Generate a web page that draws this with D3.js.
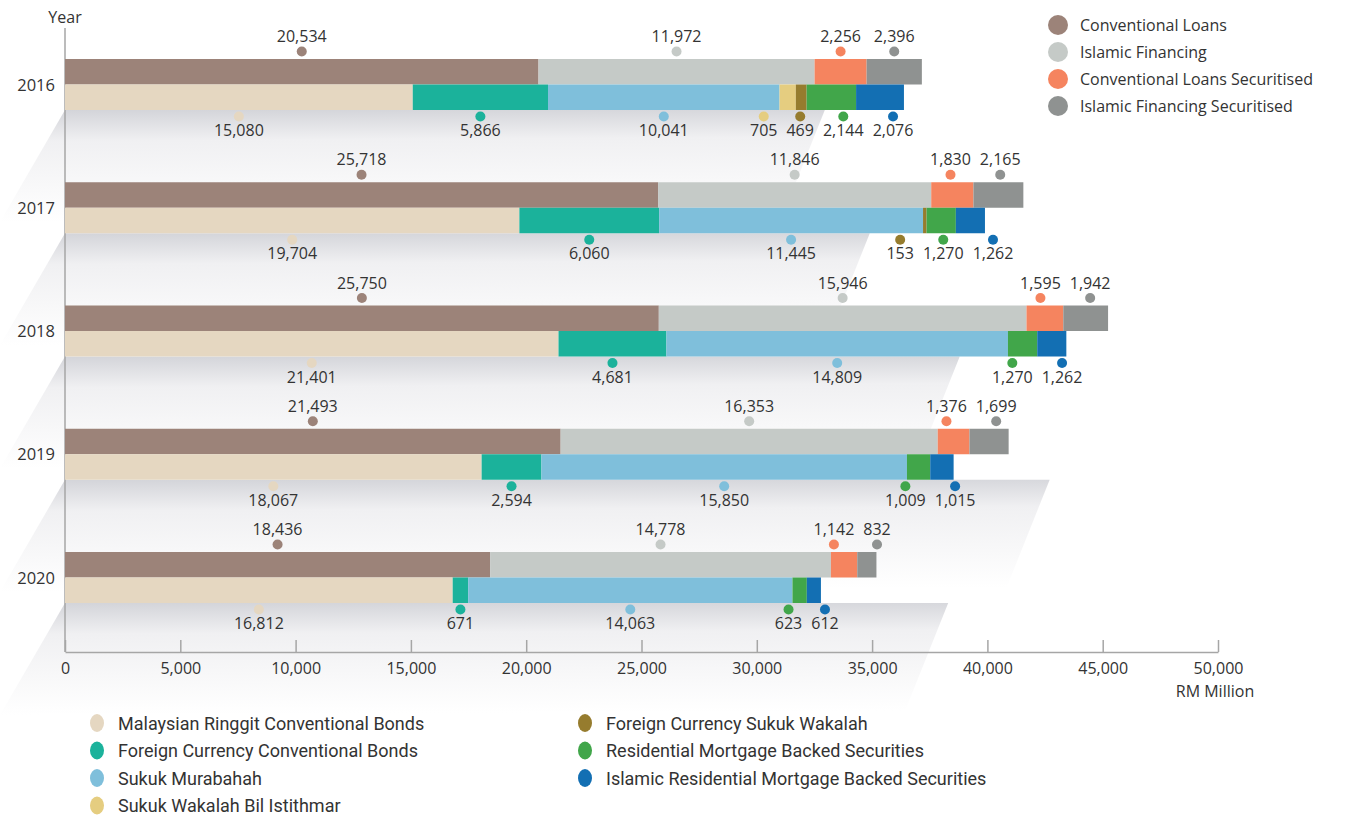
<!DOCTYPE html>
<html lang="en">
<head>
  <meta charset="UTF-8">
  <title>Outstanding securitised loans and bonds</title>
  <style>
    body {
      margin: 0;
      background-color: #fff;
      font-family: "Open Sans", Arial, sans-serif;
    }

    .value-label {
      font-size: 16px;
      fill: #333;
    }

    .year-label {
      font-size: 16.5px;
      fill: #333;
    }

    .axis text {
      font-family: "Open Sans", Arial, sans-serif;
      font-size: 16px;
      fill: #333;
    }

    .axis path,
    .axis line {
      stroke: #a6a6a6;
      stroke-width: 1.5;
    }
  </style>
</head>
<body>
  <svg id="chart"></svg>
  <script src="https://d3js.org/d3.v7.min.js"></script>
  <script>
    // data (RM million)
    const years = ['2016', '2017', '2018', '2019', '2020'];

    const loanSeries = ['Conventional Loans', 'Islamic Financing', 'Conventional Loans Securitised', 'Islamic Financing Securitised'];
    const conventionalLoans = [20534, 25718, 25750, 21493, 18436];
    const islamicFinancing = [11972, 11846, 15946, 16353, 14778];
    const conventionalLoansSecuritised = [2256, 1830, 1595, 1376, 1142];
    const islamicFinancingSecuritised = [2396, 2165, 1942, 1699, 832];

    const bondSeries = ['Malaysian Ringgit Conventional Bonds', 'Foreign Currency Conventional Bonds', 'Sukuk Murabahah',
      'Sukuk Wakalah Bil Istithmar', 'Foreign Currency Sukuk Wakalah', 'Residential Mortgage Backed Securities',
      'Islamic Residential Mortgage Backed Securities'];
    const ringgitConventionalBonds = [15080, 19704, 21401, 18067, 16812];
    const foreignConventionalBonds = [5866, 6060, 4681, 2594, 671];
    const sukukMurabahah = [10041, 11445, 14809, 15850, 14063];
    const sukukWakalahBilIstithmar = [705, 0, 0, 0, 0];
    const foreignSukukWakalah = [469, 153, 0, 0, 0];
    const rmbs = [2144, 1270, 1270, 1009, 623];
    const islamicRmbs = [2076, 1262, 1262, 1015, 612];

    const xTicks = [0, 5000, 10000, 15000, 20000, 25000, 30000, 35000, 40000, 45000, 50000];

    // how far the shaded "floor" under each year reaches (in RM million)
    const floorEnds = [32950, 34900, 38800, 42700, 38300];

    const colors = ['#9c8379', '#c5cac7', '#f5845f', '#8f9291',
      '#e5d7c1', '#1bb29b', '#7fbfdb', '#e5cd80', '#967c2e', '#41a64a', '#136fb3'];

    const rows = years.map((year, i) => ({
      year,
      'Conventional Loans': conventionalLoans[i],
      'Islamic Financing': islamicFinancing[i],
      'Conventional Loans Securitised': conventionalLoansSecuritised[i],
      'Islamic Financing Securitised': islamicFinancingSecuritised[i],
      'Malaysian Ringgit Conventional Bonds': ringgitConventionalBonds[i],
      'Foreign Currency Conventional Bonds': foreignConventionalBonds[i],
      'Sukuk Murabahah': sukukMurabahah[i],
      'Sukuk Wakalah Bil Istithmar': sukukWakalahBilIstithmar[i],
      'Foreign Currency Sukuk Wakalah': foreignSukukWakalah[i],
      'Residential Mortgage Backed Securities': rmbs[i],
      'Islamic Residential Mortgage Backed Securities': islamicRmbs[i]
    }));

    const width = 1351;
    const height = 816;
    const barH = 25.5;
    const axisY = 652;
    const floorH = 112;

    const x = d3.scaleLinear().domain([0, 50000]).range([65, 1218]);
    const y = d3.scalePoint().domain(years).range([84.5, 577.5]);
    const color = d3.scaleOrdinal().domain([...loanSeries, ...bondSeries]).range(colors);
    const fmt = d3.format(',');

    const svg = d3.select('#chart')
      .attr('width', width)
      .attr('height', height);

    const grad = svg.append('defs')
      .append('linearGradient')
      .attr('id', 'floor')
      .attr('x1', 0).attr('y1', 0)
      .attr('x2', 0.04).attr('y2', 1);
    grad.append('stop').attr('offset', '0%').attr('stop-color', '#d3d4d9');
    grad.append('stop').attr('offset', '28%').attr('stop-color', '#f0f0f2');
    grad.append('stop').attr('offset', '100%').attr('stop-color', '#ffffff');

    // shaded perspective floor under each year
    svg.append('g')
      .selectAll('path')
      .data(years)
      .join('path')
      .attr('fill', 'url(#floor)')
      .attr('d', (d, i) => {
        const top = y(d) + barH;
        const right = x(floorEnds[i]);
        const left = x(0);
        return `M${left},${top}L${right},${top}L${right - 0.4 * floorH},${top + floorH}L${left - 0.58 * floorH},${top + floorH}Z`;
      });

    // axes
    svg.append('g')
      .attr('class', 'axis')
      .attr('transform', `translate(0, ${axisY})`)
      .call(d3.axisBottom(x).tickValues(xTicks).tickFormat(fmt).tickSizeInner(-12).tickSizeOuter(0).tickPadding(11));

    svg.append('line')
      .attr('x1', x(0))
      .attr('x2', x(0))
      .attr('y1', 28)
      .attr('y2', axisY)
      .attr('stroke', '#a6a6a6')
      .attr('stroke-width', 1.5);

    svg.append('text')
      .attr('class', 'value-label')
      .attr('x', x(0))
      .attr('y', 23)
      .attr('text-anchor', 'middle')
      .text('Year');

    svg.append('text')
      .attr('class', 'value-label')
      .attr('x', x(50000) - 3)
      .attr('y', 697)
      .attr('text-anchor', 'middle')
      .style('font-size', '16px')
      .text('RM Million');

    svg.append('g')
      .selectAll('text')
      .data(years)
      .join('text')
      .attr('class', 'year-label')
      .attr('x', 55)
      .attr('y', d => y(d) + 6)
      .attr('text-anchor', 'end')
      .text(d => d);

    const loanStack = d3.stack().keys(loanSeries)(rows);
    const bondStack = d3.stack().keys(bondSeries)(rows);

    function drawBars(stack, offset) {
      svg.append('g')
        .selectAll('g')
        .data(stack)
        .join('g')
        .attr('fill', s => color(s.key))
        .selectAll('rect')
        .data(s => s.filter(d => d[1] > d[0]))
        .join('rect')
        .attr('x', d => x(d[0]))
        .attr('y', d => y(d.data.year) + offset)
        .attr('width', d => x(d[1]) - x(d[0]))
        .attr('height', barH);
    }

    drawBars(loanStack, -barH);
    drawBars(bondStack, 0);

    // push neighbouring labels apart so they don't collide
    function spread(items, gap) {
      for (let k = 0; k < 80; k++) {
        for (let i = 0; i < items.length - 1; i++) {
          const a = items[i], b = items[i + 1];
          const overlap = (a.x + a.w / 2 + gap) - (b.x - b.w / 2);
          if (overlap > 0) {
            a.x -= overlap / 2;
            b.x += overlap / 2;
          }
        }
      }
    }

    function drawLabels(stack, above) {
      years.forEach(year => {
        const items = stack.map(s => {
          const d = s.find(e => e.data.year === year);
          return { key: s.key, v: d[1] - d[0], x: x((d[0] + d[1]) / 2) };
        }).filter(d => d.v > 0);

        const dotY = above ? y(year) - barH - 7.5 : y(year) + barH + 6.5;
        const textY = above ? y(year) - barH - 17 : y(year) + barH + 26;

        const g = svg.append('g');
        const texts = g.selectAll('text')
          .data(items)
          .join('text')
          .attr('class', 'value-label')
          .attr('text-anchor', 'middle')
          .attr('y', textY)
          .text(d => fmt(d.v));

        texts.each(function(d) { d.w = this.getComputedTextLength(); });
        spread(items, 9);
        texts.attr('x', d => d.x);

        g.selectAll('circle')
          .data(items)
          .join('circle')
          .attr('cx', d => d.x)
          .attr('cy', dotY)
          .attr('r', 5)
          .attr('fill', d => color(d.key));
      });
    }

    drawLabels(loanStack, true);
    drawLabels(bondStack, false);

    // legend for loans (top right)
    const legendTop = svg.append('g')
      .attr('transform', 'translate(1058, 25)')
      .selectAll('g')
      .data(loanSeries)
      .join('g')
      .attr('transform', (d, i) => `translate(0, ${i * 27})`);

    legendTop.append('circle')
      .attr('r', 10)
      .attr('fill', d => color(d));

    legendTop.append('text')
      .attr('x', 22)
      .attr('y', 6)
      .style('font-size', '16px')
      .style('fill', '#333')
      .text(d => d);

    // legend for bonds (bottom)
    const columns = [bondSeries.slice(0, 4), bondSeries.slice(4)];
    const colX = [97, 585];

    columns.forEach((keys, c) => {
      const item = svg.append('g')
        .attr('transform', `translate(${colX[c]}, 723)`)
        .selectAll('g')
        .data(keys)
        .join('g')
        .attr('transform', (d, i) => `translate(0, ${i * 27.5})`);

      item.append('ellipse')
        .attr('rx', 7)
        .attr('ry', 9)
        .attr('fill', d => color(d));

      item.append('text')
        .attr('x', 21)
        .attr('y', 6.5)
        .style('font-family', 'Roboto, sans-serif')
        .style('font-size', '18px')
        .style('fill', '#333')
        .text(d => d);
    });
  </script>
</body>
</html>
